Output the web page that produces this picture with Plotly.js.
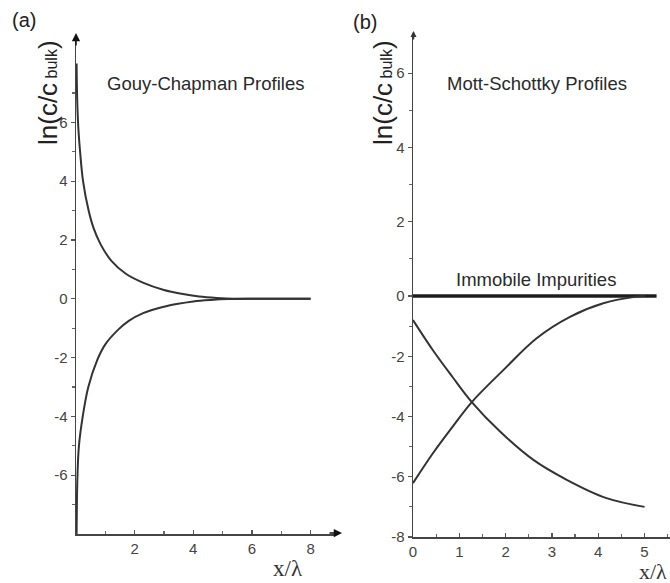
<!DOCTYPE html>
<html>
<head>
<meta charset="utf-8">
<script src="https://cdn.plot.ly/plotly-3.0.1.min.js"></script>
<style>html,body{margin:0;padding:0;background:#fff;}#chart{width:670px;height:583px;}</style>
</head>
<body>
<div id="chart"></div>
<script>
// ---- Panel (a): Gouy-Chapman profiles ----
var gcUpperX = [0.02, 0.04, 0.08, 0.14, 0.24, 0.43, 0.6, 0.84, 1.2, 1.7, 2.28, 3.0, 3.6, 4.2, 4.8, 5.4, 6.0, 8.0];
var gcUpperY = [8.0, 6.8, 5.8, 5.0, 4.0, 3.0, 2.4, 1.85, 1.3, 0.85, 0.55, 0.3, 0.17, 0.08, 0.03, 0.0, 0.0, 0.0];
var gcLowerX = [0.02, 0.03, 0.05, 0.1, 0.23, 0.42, 0.73, 1.0, 1.44, 1.8, 2.29, 2.8, 3.43, 4.0, 4.6, 5.2, 6.0, 8.0];
var gcLowerY = [-8.0, -7.0, -6.0, -5.0, -4.0, -3.0, -2.07, -1.55, -1.05, -0.75, -0.49, -0.32, -0.18, -0.09, -0.04, -0.01, 0.0, 0.0];

// ---- Panel (b): Mott-Schottky profiles ----
var msDecX = [0, 0.43, 0.85, 1.27, 1.88, 2.6, 3.32, 4.18, 5.0];
var msDecY = [-0.8, -1.8, -2.68, -3.52, -4.5, -5.44, -6.1, -6.71, -7.0];
var msIncX = [0, 0.43, 0.85, 1.27, 1.95, 2.67, 3.39, 4.11, 4.83, 5.0];
var msIncY = [-6.21, -5.22, -4.35, -3.52, -2.46, -1.40, -0.69, -0.24, -0.02, 0.0];
var immX = [0, 5.26];
var immY = [0, 0];

// ---- tick labels ----
var aXTicks = [2, 4, 6, 8];
var aXTickText = ['2', '4', '6', '8'];
var aXMinor = [1, 3, 5, 7];
var aYTicks = [-6, -4, -2, 0, 2, 4, 6];
var aYTickText = ['-6', '-4', '-2', '0', '2', '4', '6'];
var aYMinor = [-7, -5, -3, -1, 1, 3, 5, 7];
var bXTicks = [0, 1, 2, 3, 4, 5];
var bXTickText = ['0', '1', '2', '3', '4', '5'];
var bXMinor = [0.5, 1.5, 2.5, 3.5, 4.5, 5.5];
var bYLowTicks = [-8, -6, -4, -2, 0];
var bYLowTickText = ['-8', '-6', '-4', '-2', '0'];
var bYLowMinor = [-7, -5, -3, -1];
var bYHighTicks = [2, 4, 6];
var bYHighTickText = ['2', '4', '6'];
var bYHighMinor = [1, 3, 5];

var W = 670, H = 583;
function px(v){ return v / W; }
function py(v){ return 1 - v / H; }

var FONT = 'Liberation Sans, Arial, sans-serif';
var SERIF = 'Liberation Serif, Times New Roman, serif';
var curveLine = {color: '#333333', width: 2, shape: 'spline', smoothing: 1.0};

var traces = [
  {x: gcUpperX, y: gcUpperY, xaxis: 'x', yaxis: 'y', mode: 'lines', line: curveLine, hoverinfo: 'skip'},
  {x: gcLowerX, y: gcLowerY, xaxis: 'x', yaxis: 'y', mode: 'lines', line: curveLine, hoverinfo: 'skip'},
  {x: immX, y: immY, xaxis: 'x2', yaxis: 'y2', mode: 'lines', line: {color: '#1e1e1e', width: 3.5}, hoverinfo: 'skip'},
  {x: msDecX, y: msDecY, xaxis: 'x2', yaxis: 'y2', mode: 'lines', line: curveLine, hoverinfo: 'skip'},
  {x: msIncX, y: msIncY, xaxis: 'x2', yaxis: 'y2', mode: 'lines', line: curveLine, hoverinfo: 'skip'},
  {x: [], y: [], xaxis: 'x2', yaxis: 'y3', mode: 'lines', hoverinfo: 'skip'}
];

var tickFont = {family: FONT, size: 15, color: '#444'};
function axisBase(extra){
  var a = {
    showgrid: false, zeroline: false, showline: true,
    linecolor: '#444', linewidth: 1.5,
    tickcolor: '#555', tickwidth: 1.2,
    tickfont: tickFont, tickmode: 'array', fixedrange: true
  };
  for (var k in extra) a[k] = extra[k];
  return a;
}

var layout = {
  width: W, height: H,
  margin: {l: 0, r: 0, t: 0, b: 0},
  paper_bgcolor: '#ffffff', plot_bgcolor: 'rgba(0,0,0,0)',
  showlegend: false,
  xaxis: axisBase({domain: [px(76), px(334)], range: [0, 8.8], anchor: 'y',
    tickvals: aXTicks, ticktext: aXTickText, ticks: 'inside', ticklen: 4,
    minor: {tickmode: 'array', tickvals: aXMinor, ticks: 'inside', ticklen: 3, tickcolor: '#666'}}),
  yaxis: axisBase({domain: [py(534), py(40)], range: [-8, 8.8], anchor: 'x',
    tickvals: aYTicks, ticktext: aYTickText, ticks: 'outside', ticklen: 4,
    minor: {tickmode: 'array', tickvals: aYMinor, ticks: 'outside', ticklen: 3, tickcolor: '#666'}}),
  xaxis2: axisBase({domain: [px(413), 1], range: [0, 5.55], anchor: 'y2',
    tickvals: bXTicks, ticktext: bXTickText, ticks: 'inside', ticklen: 4,
    minor: {tickmode: 'array', tickvals: bXMinor, ticks: 'inside', ticklen: 3, tickcolor: '#666'}}),
  yaxis2: axisBase({domain: [py(537), py(291.5)], range: [-8, 0.15], anchor: 'x2',
    tickvals: bYLowTicks, ticktext: bYLowTickText, ticks: 'outside', ticklen: 4,
    minor: {tickmode: 'array', tickvals: bYLowMinor, ticks: 'outside', ticklen: 3, tickcolor: '#666'}}),
  yaxis3: axisBase({domain: [py(291.5), py(36)], range: [0.12, 7.0], anchor: 'x2',
    tickvals: bYHighTicks, ticktext: bYHighTickText, ticks: 'outside', ticklen: 4,
    minor: {tickmode: 'array', tickvals: bYHighMinor, ticks: 'outside', ticklen: 3, tickcolor: '#666'}}),
  annotations: [
    {text: '(a)', xref: 'paper', yref: 'paper', x: px(24), y: py(20), xanchor: 'center', yanchor: 'middle',
     showarrow: false, font: {family: FONT, size: 20, color: '#222'}},
    {text: '(b)', xref: 'paper', yref: 'paper', x: px(365), y: py(22), xanchor: 'center', yanchor: 'middle',
     showarrow: false, font: {family: FONT, size: 20, color: '#222'}},
    {text: 'Gouy-Chapman Profiles', xref: 'paper', yref: 'paper', x: px(205), y: py(83), xanchor: 'center', yanchor: 'middle',
     showarrow: false, font: {family: FONT, size: 18.5, color: '#2a2a2a'}},
    {text: 'Mott-Schottky Profiles', xref: 'paper', yref: 'paper', x: px(537), y: py(83), xanchor: 'center', yanchor: 'middle',
     showarrow: false, font: {family: FONT, size: 18.5, color: '#2a2a2a'}},
    {text: 'Immobile Impurities', xref: 'paper', yref: 'paper', x: px(536), y: py(280), xanchor: 'center', yanchor: 'middle',
     showarrow: false, font: {family: FONT, size: 18.5, color: '#2a2a2a'}},
    {text: 'ln(c/c<span style="font-size:16px"> bulk</span>)', xref: 'paper', yref: 'paper', x: px(48), y: py(93),
     xanchor: 'center', yanchor: 'middle', textangle: -90, showarrow: false, font: {family: FONT, size: 26, color: '#222'}},
    {text: 'ln(c/c<span style="font-size:16px"> bulk</span>)', xref: 'paper', yref: 'paper', x: px(383), y: py(93),
     xanchor: 'center', yanchor: 'middle', textangle: -90, showarrow: false, font: {family: FONT, size: 26, color: '#222'}},
    {text: 'x/\u03bb', xref: 'paper', yref: 'paper', x: px(288), y: py(568), xanchor: 'center', yanchor: 'middle',
     showarrow: false, font: {family: SERIF, size: 23, color: '#333'}},
    {text: 'x/\u03bb', xref: 'paper', yref: 'paper', x: px(669), y: py(571), xanchor: 'right', yanchor: 'middle',
     showarrow: false, font: {family: SERIF, size: 22, color: '#333'}},
    // axis arrowheads
    {text: '', xref: 'paper', yref: 'paper', x: px(76), y: py(33), ax: 0, ay: 14, showarrow: true,
     arrowhead: 2, arrowsize: 1.1, arrowwidth: 1.5, arrowcolor: '#111', standoff: 0},
    {text: '', xref: 'paper', yref: 'paper', x: px(342), y: py(533), ax: -14, ay: 0, showarrow: true,
     arrowhead: 2, arrowsize: 1.1, arrowwidth: 1.5, arrowcolor: '#111', standoff: 0},
    {text: '', xref: 'paper', yref: 'paper', x: px(413.5), y: py(31), ax: 0, ay: 10, showarrow: true,
     arrowhead: 2, arrowsize: 0.8, arrowwidth: 1.5, arrowcolor: '#333', standoff: 0}
  ]
};

Plotly.newPlot('chart', traces, layout, {staticPlot: true, displayModeBar: false});
</script>
</body>
</html>
